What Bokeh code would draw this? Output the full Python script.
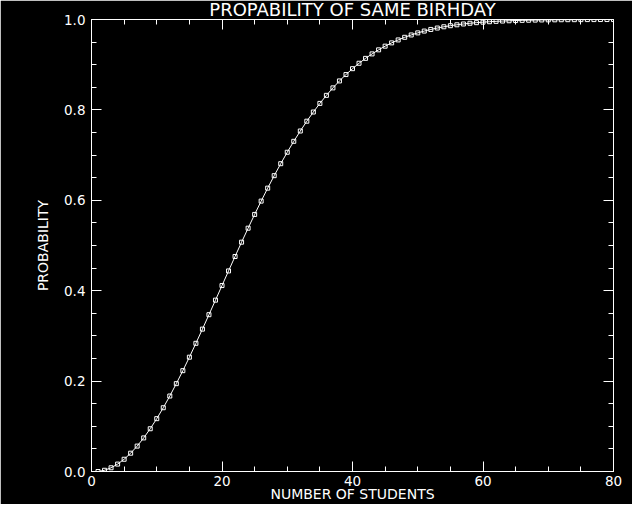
from bokeh.plotting import figure
from bokeh.models import (Range1d, LinearAxis, SingleIntervalTicker, NumeralTickFormatter,
                          CustomJSTickFormatter, ColumnDataSource)
from bokeh.embed import file_html
from bokeh.resources import INLINE

# ---- data ----
students = list(range(1, 81))
prob = [
    0.0000, 0.0027, 0.0082, 0.0164, 0.0271, 0.0405, 0.0562, 0.0743, 0.0946, 0.1169,
    0.1411, 0.1670, 0.1944, 0.2231, 0.2529, 0.2836, 0.3150, 0.3469, 0.3791, 0.4114,
    0.4437, 0.4757, 0.5073, 0.5383, 0.5687, 0.5982, 0.6269, 0.6545, 0.6810, 0.7063,
    0.7305, 0.7533, 0.7750, 0.7953, 0.8144, 0.8322, 0.8487, 0.8641, 0.8782, 0.8912,
    0.9032, 0.9140, 0.9239, 0.9329, 0.9410, 0.9483, 0.9548, 0.9606, 0.9658, 0.9704,
    0.9744, 0.9780, 0.9811, 0.9839, 0.9863, 0.9883, 0.9901, 0.9917, 0.9930, 0.9941,
    0.9951, 0.9959, 0.9966, 0.9972, 0.9977, 0.9981, 0.9984, 0.9987, 0.9990, 0.9992,
    0.9993, 0.9995, 0.9996, 0.9996, 0.9997, 0.9998, 0.9998, 0.9999, 0.9999, 0.9999,
]
title_text = "PROPABILITY OF SAME BIRHDAY"
x_label = "NUMBER OF STUDENTS"
y_label = "PROBABILITY"

FONT = "DejaVu Sans"

p = figure(width=632, height=504,
           min_border_left=91, min_border_right=19, min_border_top=19, min_border_bottom=33,
           x_range=Range1d(0, 80), y_range=Range1d(0, 1),
           output_backend="svg", toolbar_location=None,
           x_axis_location=None, y_axis_location=None)
p.background_fill_color = "black"
p.border_fill_color = "black"
p.outline_line_color = None
p.xgrid.visible = False
p.ygrid.visible = False

p.title.text = title_text
p.title.align = "center"
p.title.vertical_align = "top"
p.title.text_color = "white"
p.title.text_font = FONT
p.title.text_font_size = "18px"
p.title.text_font_style = "normal"
p.title.standoff = -4

def style_axis(ax, show_labels, standoff):
    ax.axis_line_color = "white"
    ax.axis_line_width = 1
    ax.major_tick_line_color = "white"
    ax.minor_tick_line_color = "white"
    ax.major_tick_in = 10
    ax.major_tick_out = 0
    ax.minor_tick_in = 5
    ax.minor_tick_out = 0
    ax.major_label_text_color = "white"
    ax.major_label_text_font = FONT
    ax.major_label_text_font_size = "13.5px"
    ax.major_label_standoff = standoff
    ax.axis_label_text_color = "white"
    ax.axis_label_text_font = FONT
    ax.axis_label_text_font_size = "14px"
    ax.axis_label_text_font_style = "normal"
    if not show_labels:
        ax.formatter = CustomJSTickFormatter(code="return ''")
        ax.major_label_standoff = 0

xb = LinearAxis(ticker=SingleIntervalTicker(interval=20, num_minor_ticks=4),
                axis_label=x_label)
style_axis(xb, True, 4)
xb.axis_label_standoff = -3
p.add_layout(xb, "below")

xt = LinearAxis(ticker=SingleIntervalTicker(interval=20, num_minor_ticks=4))
style_axis(xt, False, 0)
p.add_layout(xt, "above")

yl = LinearAxis(ticker=SingleIntervalTicker(interval=0.2, num_minor_ticks=4),
                formatter=NumeralTickFormatter(format="0.0"), axis_label=y_label)
style_axis(yl, True, 6)
yl.axis_label_standoff = 10
p.add_layout(yl, "left")

yr = LinearAxis(ticker=SingleIntervalTicker(interval=0.2, num_minor_ticks=4))
style_axis(yr, False, 0)
p.add_layout(yr, "right")

src = ColumnDataSource(dict(x=students, y=prob))
p.line("x", "y", source=src, line_color="white", line_width=1)
p.scatter("x", "y", source=src, marker="square", size=4, fill_color=None,
          line_color="white", line_width=1)

open("out.html", "w").write(file_html(p, INLINE))
